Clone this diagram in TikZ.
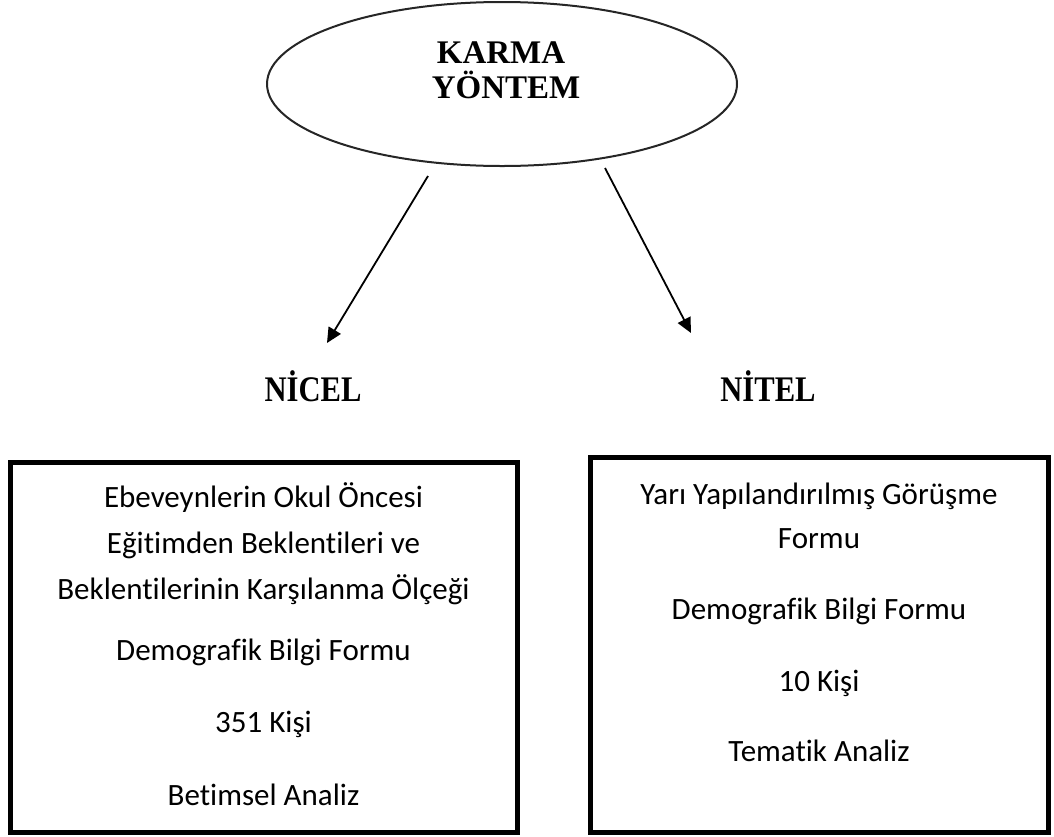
\documentclass[tikz,border=0pt]{standalone}
\usepackage{fontspec}
\usepackage{graphicx}
\setmainfont{Carlito}[Ligatures=CommonOff]
\newfontfamily\timesfont{Liberation Serif}
\usetikzlibrary{arrows.meta,shapes.geometric}
\begin{document}
\begin{tikzpicture}[x=1pt,y=-1pt,
  boxtext/.style={font=\fontsize{31}{37}\selectfont, anchor=mid, inner sep=0pt},
  frame/.style={draw, line width=5pt, inner sep=0pt},
  title/.style={font=\timesfont\bfseries\fontsize{33}{38}\selectfont, inner sep=0pt, anchor=base},
  label/.style={title, font=\timesfont\bfseries\fontsize{36}{40}\selectfont},
  arr/.style={line width=1.8pt, -{Triangle[length=15pt,width=14pt]}}]
\useasboundingbox (0,0) rectangle (1054,836);
% ellipse
\node[draw=black!85, line width=2pt, ellipse, minimum width=470pt, minimum height=164pt, inner sep=0pt] (karma) at (502,84) {};
\node[title] (k1) at (501,63) {KARMA};
\node[title] (k2) at (506,98) {YÖNTEM};
% arrows
\coordinate (ls) at (428,176);
\coordinate (lt) at (327,343);
\coordinate (rs) at (605,168);
\coordinate (rt) at (691,333);
\draw[arr] (ls) -- (lt);
\draw[arr] (rs) -- (rt);
% labels
\node[label] (nicel) at (313,401) {\scalebox{0.85}[1]{NİCEL}};
\node[label] (nitel) at (768,401) {\scalebox{0.85}[1]{NİTEL}};
% boxes
\node[frame, minimum width=507pt, minimum height=370pt] (lbox) at (263.5,647) {};
\node[frame, minimum width=458pt, minimum height=375pt] (rbox) at (819,644.5) {};
% left text
\node[boxtext] (l1) at (263.5,505) {Ebeveynlerin Okul Öncesi};
\node[boxtext] (l2) at (263.5,551) {Eğitimden Beklentileri ve};
\node[boxtext] (l3) at (263.5,597) {Beklentilerinin Karşılanma Ölçeği};
\node[boxtext] (l4) at (263.5,658) {Demografik Bilgi Formu};
\node[boxtext] (l5) at (263.5,730) {351 Kişi};
\node[boxtext] (l6) at (263.5,803) {Betimsel Analiz};
% right text
\node[boxtext] (r1) at (819,502) {Yarı Yapılandırılmış Görüşme};
\node[boxtext] (r2) at (819,546) {Formu};
\node[boxtext] (r3) at (819,617) {Demografik Bilgi Formu};
\node[boxtext] (r4) at (819,689) {10 Kişi};
\node[boxtext] (r5) at (819,759) {Tematik Analiz};
\end{tikzpicture}
\end{document}
